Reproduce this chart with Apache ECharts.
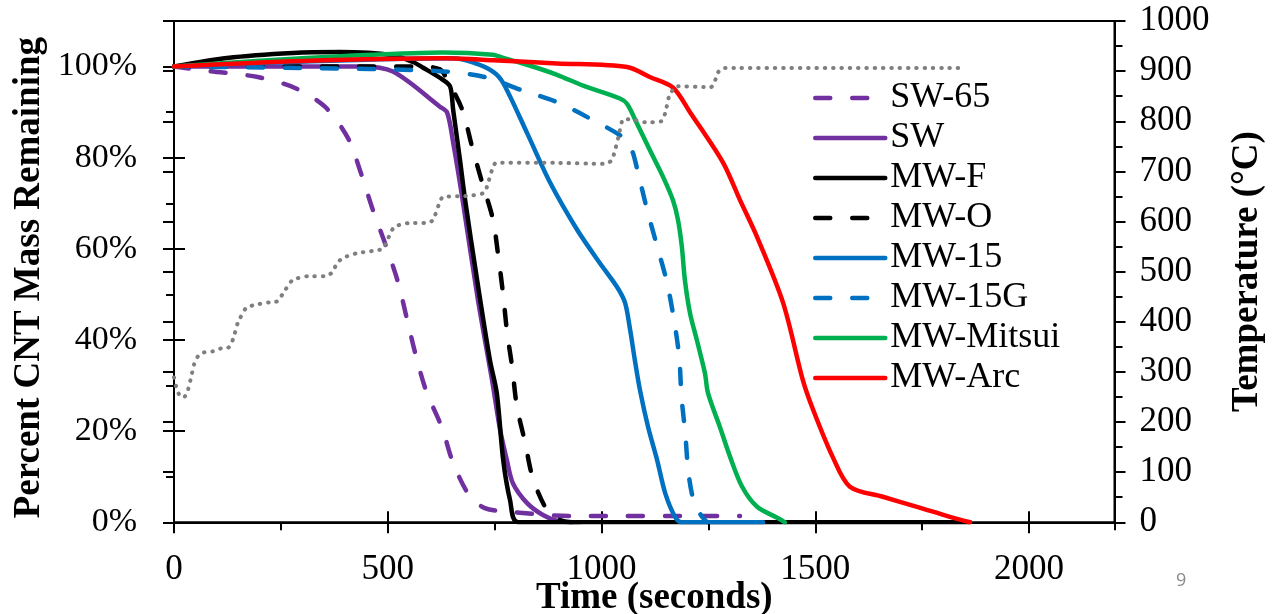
<!DOCTYPE html>
<html>
<head>
<meta charset="utf-8">
<script src="https://cdn.jsdelivr.net/npm/echarts@6/dist/echarts.min.js"></script>
<style>
  html, body { margin: 0; padding: 0; background: #fff; }
  #chart { width: 1280px; height: 614px; }
</style>
</head>
<body>
<div id="chart"></div>
<script>
// ---- Data (time in seconds, mass in %, temperature in °C) ----
const legendNames = ['SW-65', 'SW', 'MW-F', 'MW-O', 'MW-15', 'MW-15G', 'MW-Mitsui', 'MW-Arc'];

const sw65 = [[0,100],[84,99],[196,97.7],[283,95.3],[353,91.2],[407,84.3],[437,76.7],[465,68.6],[496,60.6],[524,52.7],[545,44.6],[566,36.5],[590,28.8],[627,20.7],[653,13.0],[690,6.0],[727,3.1],[786,2.3],[926,1.4],[1324,1.4]];
const sw = [[0,100],[435,100],[512,98.9],[622,91.2],[639,89.9],[653,83.3],[674,71.4],[711,48.8],[744,31.2],[763,20.2],[779,13.5],[793,8.5],[826,4.2],[863,1.6],[898,0.3],[950,0]];
const mwF = [[0,100],[124,101.9],[278,103.0],[388,103.2],[512,102.5],[559,101],[582,99.8],[629,97.1],[646,95.6],[653,90.5],[669,79.5],[681,70.7],[709,53.2],[739,35.6],[755,28.4],[770,13.7],[786,4.9],[805,0],[1862,0]];
const mwO = [[0,100],[575,100],[622,99.4],[639,97.1],[674,90.6],[697,82.5],[720,74.8],[746,66.5],[758,58.8],[770,49.9],[779,41.8],[791,34.1],[802,25.5],[821,17.6],[840,9.5],[875,2.3],[903,0.5],[930,0]];
const mw15 = [[0,100],[200,100.8],[450,101.5],[653,101.8],[699,100.9],[746,98.9],[770,96.4],[826,85.4],[880,74.5],[943,64.2],[996,56.9],[1036,51.7],[1055,48.2],[1067,42.2],[1078,35.6],[1090,29.0],[1109,20.9],[1130,13.7],[1149,6.4],[1172,1.2],[1188,0],[1378,0]];
const mw15G = [[0,100],[295,99.7],[622,99],[727,97.7],[814,94.8],[896,92.2],[975,88.5],[1053,84.3],[1071,81.7],[1085,76.9],[1106,68.8],[1130,60.6],[1153,52.7],[1170,44.2],[1182,36.1],[1187,27.7],[1196,19.4],[1203,11.2],[1214,5.3],[1231,1.8],[1247,0]];
const mwMitsui = [[0,100],[200,101.3],[400,102.3],[629,103.1],[746,102.6],[770,101.9],[826,100.4],[896,98.2],[957,95.8],[1043,93.0],[1060,91.8],[1083,87.5],[1113,81.7],[1144,75.8],[1167,70.7],[1179,66.3],[1188,60.4],[1195,53.2],[1207,45.9],[1223,40.0],[1242,32.7],[1249,28.4],[1277,20.9],[1301,14.3],[1329,7.8],[1364,3.4],[1411,1.0],[1429,0]];
const mwArc = [[0,100],[300,101.2],[629,101.8],[746,101.4],[896,100.7],[1060,99.9],[1113,97.7],[1167,95.4],[1207,90.0],[1284,79.0],[1324,70.7],[1364,62.6],[1425,48.1],[1471,31.2],[1495,24.7],[1541,14.3],[1581,7.8],[1658,5.6],[1738,3.4],[1815,1.2],[1862,0]];

const tempTime = [0,5,12,23,33,42,47,56,70,91,110,128,138,149,168,186,224,242,254,277,315,354,371,380,394,429,487,497,515,552,592,606,620,629,688,725,732,744,753,893,1005,1023,1030,1040,1051,1068,1103,1140,1149,1159,1177,1256,1266,1273,1284,1850];
const tempValue = [289,271,255,249,265,297,315,331,339,341,347,349,365,397,427,433,439,441,455,483,491,491,499,515,527,537,545,559,589,597,597,603,635,649,651,657,669,703,717,717,715,721,737,770,804,804,798,800,816,852,870,868,882,898,906,906];

const xTicks = { min: 0, max: 2200, major: 500, minor: 250 };
const yLeftTicks = { min: 0, max: 110, major: 20, minor: 10 };
const yRightTicks = { min: 0, max: 1000, major: 100, minor: 50 };

// ---- Styles ----
const SERIF = "'Liberation Serif', 'Times New Roman', serif";
const BLACK = '#000';
const tickStyle = { color: BLACK, width: 2 };
const plain = function (v) { return String(v); };

function dupAxis(base, interval, inside, length) {
  return Object.assign({}, base, {
    interval: interval,
    axisLine: { show: false },
    axisLabel: { show: false },
    splitLine: { show: false },
    axisTick: { show: true, inside: inside, length: length, lineStyle: tickStyle },
    name: ''
  });
}

const xBase = { type: 'value', gridIndex: 0, position: 'bottom', min: xTicks.min, max: xTicks.max };
const yLBase = { type: 'value', gridIndex: 0, position: 'left', min: yLeftTicks.min, max: yLeftTicks.max };
const yRBase = { type: 'value', gridIndex: 0, position: 'right', min: yRightTicks.min, max: yRightTicks.max };

const xAxes = [
  Object.assign({}, xBase, {
    interval: xTicks.major,
    axisLine: { show: true, onZero: false, lineStyle: { color: BLACK, width: 2 } },
    axisTick: { show: true, inside: false, length: 11, lineStyle: tickStyle },
    axisLabel: { show: true, showMaxLabel: false, color: BLACK, fontFamily: SERIF, fontSize: 35, margin: 30, formatter: plain },
    splitLine: { show: false },
    name: 'Time (seconds)', nameLocation: 'middle', nameGap: 58, nameMoveOverlap: false,
    nameTextStyle: { color: BLACK, fontFamily: SERIF, fontWeight: 'bold', fontSize: 37, padding: [0, 0, 0, 20] }
  }),
  dupAxis(xBase, xTicks.major, true, 11),
  dupAxis(xBase, xTicks.minor, false, 8)
];

const yAxes = [
  Object.assign({}, yLBase, {
    interval: yLeftTicks.major,
    axisLine: { show: true, onZero: false, lineStyle: { color: BLACK, width: 2 } },
    axisTick: { show: true, inside: false, length: 11, lineStyle: tickStyle },
    axisLabel: { show: true, showMaxLabel: false, color: BLACK, fontFamily: SERIF, fontSize: 34, margin: 37,
      formatter: function (v) { return v > 100 ? '' : v + '%'; } },
    splitLine: { show: false },
    name: 'Percent CNT Mass Remaining', nameLocation: 'middle', nameGap: 126, nameRotate: 90, nameMoveOverlap: false,
    nameTextStyle: { color: BLACK, fontFamily: SERIF, fontWeight: 'bold', fontSize: 37, padding: [0, 12, 0, 0] }
  }),
  dupAxis(yLBase, yLeftTicks.major, true, 11),
  dupAxis(yLBase, yLeftTicks.minor, false, 8),
  Object.assign({}, yRBase, {
    interval: yRightTicks.major,
    axisLine: { show: true, onZero: false, lineStyle: { color: BLACK, width: 2 } },
    axisTick: { show: true, inside: false, length: 11, lineStyle: tickStyle },
    axisLabel: { show: true, color: BLACK, fontFamily: SERIF, fontSize: 35, margin: 25, formatter: plain },
    splitLine: { show: false },
    name: 'Temperature (°C)', nameLocation: 'middle', nameGap: 114, nameRotate: 90, nameMoveOverlap: false,
    nameTextStyle: { color: BLACK, fontFamily: SERIF, fontWeight: 'bold', fontSize: 37 }
  }),
  dupAxis(yRBase, yRightTicks.major, true, 11),
  dupAxis(yRBase, yRightTicks.minor, false, 8)
];

const DASH = [15, 22];
function massSeries(name, data, color, dashed) {
  return {
    name: name, type: 'line', data: data, xAxisIndex: 0, yAxisIndex: 0,
    symbol: 'none', smooth: 0.3,
    lineStyle: { color: color, width: 4.5, type: dashed ? DASH : 'solid', cap: 'round', join: 'round' },
    itemStyle: { color: color },
    emphasis: { disabled: true }, animation: false
  };
}

const series = [
  massSeries('SW-65', sw65, '#7030A0', true),
  massSeries('SW', sw, '#7030A0', false),
  massSeries('MW-F', mwF, '#000000', false),
  massSeries('MW-O', mwO, '#000000', true),
  massSeries('MW-15', mw15, '#0070C0', false),
  massSeries('MW-15G', mw15G, '#0070C0', true),
  massSeries('MW-Mitsui', mwMitsui, '#00B050', false),
  massSeries('MW-Arc', mwArc, '#FF0000', false),
  {
    name: 'Temperature', type: 'line', xAxisIndex: 0, yAxisIndex: 3,
    data: tempTime.map(function (t, i) { return [t, tempValue[i]]; }),
    symbol: 'none', smooth: 0.2, z: 5,
    lineStyle: { color: '#7f7f7f', width: 4, type: [0.5, 7.8], cap: 'round' },
    itemStyle: { color: '#7f7f7f' },
    emphasis: { disabled: true }, animation: false
  }
];

const chart = echarts.init(document.getElementById('chart'), null, { renderer: 'canvas' });
chart.setOption({
  animation: false,
  backgroundColor: '#fff',
  grid: { left: 174, right: 165.5, top: 21, bottom: 91.7, show: true, borderColor: BLACK, borderWidth: 2,
    backgroundColor: 'transparent', containLabel: false, outerBoundsMode: 'none' },
  legend: {
    data: legendNames, orient: 'vertical', left: 808, top: 75,
    itemWidth: 70, itemHeight: 14, itemGap: 4,
    itemStyle: { opacity: 0, borderWidth: 0 },
    lineStyle: { width: 4.5, cap: 'round' },
    textStyle: { color: BLACK, fontFamily: SERIF, fontSize: 36, lineHeight: 34 },
    selectedMode: false
  },
  xAxis: xAxes,
  yAxis: yAxes,
  series: series,
  graphic: [{
    type: 'text', left: 1176, top: 572,
    style: { text: '9', fill: '#8a8a8a', font: "18px 'Open Sans', sans-serif" }
  }]
});
</script>
</body>
</html>
